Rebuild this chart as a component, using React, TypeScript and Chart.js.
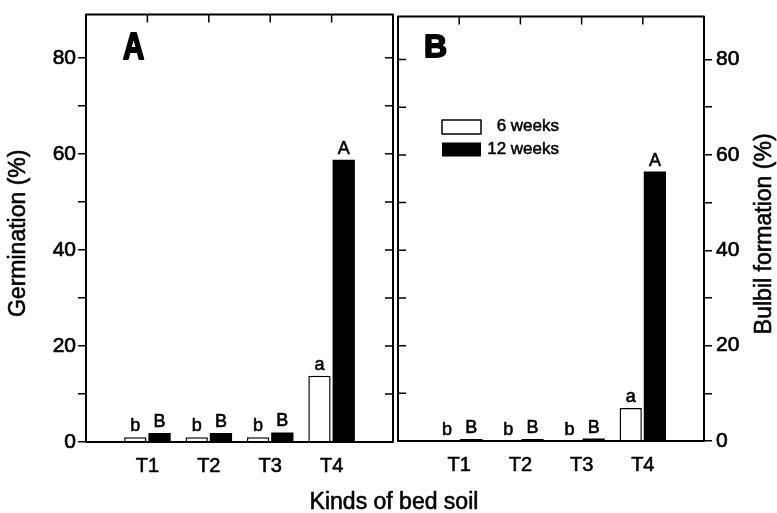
import React, { useEffect, useRef } from 'react';
import { Chart, registerables } from 'chart.js';

Chart.register(...registerables);

// Bed-soil treatments; the empty slots pad the axis so T1..T4 sit at 1..4 of 0..5
const soilLabels = ['', 'T1', 'T2', 'T3', 'T4', ''];

// Panel A: germination (%)
const germination6 = [null, 1.0, 1.0, 1.0, 13.8, null];
const germination12 = [null, 1.9, 1.9, 2.0, 58.8, null];

// Panel B: bulbil formation (%)
const bulbil6 = [null, 0.1, 0.1, 0.1, 6.9, null];
const bulbil12 = [null, 0.4, 0.4, 0.5, 56.5, null];

// Duncan letters above the bars
const letters6 = [null, 'b', 'b', 'b', 'a', null];
const letters12 = [null, 'B', 'B', 'B', 'A', null];

const seriesNames = ['6 weeks', '12 weeks'];
const yTicks = [0, 10, 20, 30, 40, 50, 60, 70, 80];
const yMax = 89;

const FONT = "'Liberation Sans', Arial, Helvetica, sans-serif";

type PanelOpts = {
  panel: 'A' | 'B';
  mirrorSide: 'left' | 'right';
  yTitle: string;
  yTitleX: number;
  letters: (string | null)[][];
};

// fill plus a hairline stroke, giving the slightly heavy print look
function heavyText(ctx: CanvasRenderingContext2D, t: string, x: number, y: number, w = 0.6) {
  ctx.lineWidth = w;
  ctx.lineJoin = 'round';
  ctx.strokeText(t, x, y);
  ctx.fillText(t, x, y);
}

const framePlugin = {
  id: 'frame',
  afterDatasetsDraw(chart: any, _args: any, opts: PanelOpts) {
    const { ctx, chartArea: a, scales } = chart;
    const xs = scales.x;
    const ys = scales.y;
    ctx.save();
    ctx.fillStyle = '#000';
    ctx.strokeStyle = '#000';

    // significance letters
    ctx.font = `18px ${FONT}`;
    ctx.textAlign = 'center';
    ctx.textBaseline = 'alphabetic';
    opts.letters.forEach((list, d) => {
      const meta = chart.getDatasetMeta(d);
      meta.data.forEach((el: any, i: number) => {
        const t = list[i];
        if (!t) return;
        heavyText(ctx, t, el.x, el.y - 6);
      });
    });

    // box
    ctx.lineWidth = 2;
    ctx.strokeRect(a.left, a.top, a.right - a.left, a.bottom - a.top);

    // inner ticks: top edge at each treatment, opposite side at each y tick
    ctx.lineWidth = 1.5;
    ctx.beginPath();
    soilLabels.forEach((lab, i) => {
      if (!lab) return;
      const px = xs.getPixelForValue(i);
      ctx.moveTo(px, a.top);
      ctx.lineTo(px, a.top + 8);
    });
    yTicks.forEach((v) => {
      const py = ys.getPixelForValue(v);
      if (opts.mirrorSide === 'right') {
        ctx.moveTo(a.right, py);
        ctx.lineTo(a.right - 8, py);
      } else {
        ctx.moveTo(a.left, py);
        ctx.lineTo(a.left + 8, py);
      }
    });
    ctx.stroke();

    // panel letter
    ctx.font = `bold 32px ${FONT}`;
    ctx.textAlign = 'left';
    ctx.textBaseline = 'alphabetic';
    if (opts.panel === 'A') {
      ctx.save();
      ctx.translate(a.left + 37, 59);
      ctx.scale(0.92, 1.15);
      heavyText(ctx, 'A', 0, 0, 1.8);
      ctx.restore();
    } else {
      heavyText(ctx, 'B', a.left + 26, 56.5, 1.8);
    }

    // y-axis title, reading upward
    ctx.font = `23px ${FONT}`;
    ctx.textAlign = 'center';
    ctx.textBaseline = 'middle';
    ctx.save();
    ctx.translate(opts.yTitleX, (a.top + a.bottom) / 2 + 5);
    ctx.rotate(-Math.PI / 2);
    heavyText(ctx, opts.yTitle, 0, 0);
    ctx.restore();

    if (opts.panel === 'B') {
      // shared x-axis title
      heavyText(ctx, 'Kinds of bed soil', 394, 503);

      // legend
      const lx = a.left + 44;
      ctx.lineWidth = 1.5;
      ctx.fillStyle = '#fff';
      ctx.fillRect(lx, 120, 39, 14);
      ctx.strokeRect(lx, 120, 39, 14);
      ctx.fillStyle = '#000';
      ctx.fillRect(lx, 142.5, 39, 14);
      ctx.font = `17px ${FONT}`;
      ctx.textAlign = 'right';
      heavyText(ctx, seriesNames[0], 559, 126, 0.5);
      heavyText(ctx, seriesNames[1], 559, 149, 0.5);
    }

    ctx.restore();
  },
};

function makeConfig(
  panel: 'A' | 'B',
  data6: (number | null)[],
  data12: (number | null)[],
): any {
  const isA = panel === 'A';
  return {
    type: 'bar',
    data: {
      labels: soilLabels,
      datasets: [
        {
          label: seriesNames[0],
          data: data6,
          backgroundColor: '#ffffff',
          borderColor: '#000000',
          borderWidth: 1.5,
        },
        {
          label: seriesNames[1],
          data: data12,
          backgroundColor: '#000000',
          borderColor: '#000000',
          borderWidth: 0,
        },
      ],
    },
    options: {
      responsive: false,
      animation: false,
      events: [],
      layout: {
        padding: isA
          ? { top: 12, left: 0, right: 777 - 393, bottom: 0 }
          : { top: 11, left: 398, right: 0, bottom: 0 },
      },
      datasets: {
        bar: { categoryPercentage: 0.79, barPercentage: 0.92 },
      },
      plugins: {
        legend: { display: false },
        tooltip: { enabled: false },
        frame: {
          panel,
          mirrorSide: isA ? 'right' : 'left',
          yTitle: isA ? 'Germination (%)' : 'Bulbil formation (%)',
          yTitleX: isA ? 19 : 765,
          letters: [letters6, letters12],
        },
      },
      scales: {
        x: {
          type: 'category',
          offset: false,
          grid: { display: false, drawTicks: false },
          border: { display: false },
          ticks: {
            autoSkip: false,
            maxRotation: 0,
            padding: 12,
            color: '#000',
            textStrokeColor: '#000',
            textStrokeWidth: 0.6,
            font: { family: FONT, size: 20 },
          },
          afterFit: (s: any) => {
            s.height = isA ? 71 : 72;
          },
        },
        y: {
          position: isA ? 'left' : 'right',
          min: 0,
          max: yMax,
          afterBuildTicks: (s: any) => {
            s.ticks = yTicks.map((v) => ({ value: v }));
          },
          grid: {
            drawOnChartArea: false,
            drawTicks: true,
            tickLength: 8,
            color: '#000',
            lineWidth: 1.5,
          },
          border: { display: false },
          ticks: {
            padding: isA ? 2 : 4,
            color: '#000',
            textStrokeColor: '#000',
            textStrokeWidth: 0.7,
            font: { family: FONT, size: 21 },
            callback: (v: any) => (Number(v) % 20 === 0 ? String(v) : ''),
          },
          afterFit: (s: any) => {
            s.width = isA ? 86 : 73;
          },
        },
      },
    },
    plugins: [framePlugin],
  };
}

export default function App() {
  const leftRef = useRef<HTMLCanvasElement>(null);
  const rightRef = useRef<HTMLCanvasElement>(null);

  useEffect(() => {
    const charts: Chart[] = [];
    if (leftRef.current) {
      charts.push(new Chart(leftRef.current, makeConfig('A', germination6, germination12)));
    }
    if (rightRef.current) {
      charts.push(new Chart(rightRef.current, makeConfig('B', bulbil6, bulbil12)));
    }
    return () => charts.forEach((c) => c.destroy());
  }, []);

  const canvasStyle: React.CSSProperties = {
    position: 'absolute',
    left: 0,
    top: 0,
    width: 777,
    height: 513,
  };

  return (
    <div
      style={{
        position: 'absolute',
        left: 0,
        top: 0,
        width: 777,
        height: 513,
        background: '#fff',
      }}
    >
      <canvas ref={leftRef} width={777} height={513} style={canvasStyle} />
      <canvas ref={rightRef} width={777} height={513} style={canvasStyle} />
    </div>
  );
}
